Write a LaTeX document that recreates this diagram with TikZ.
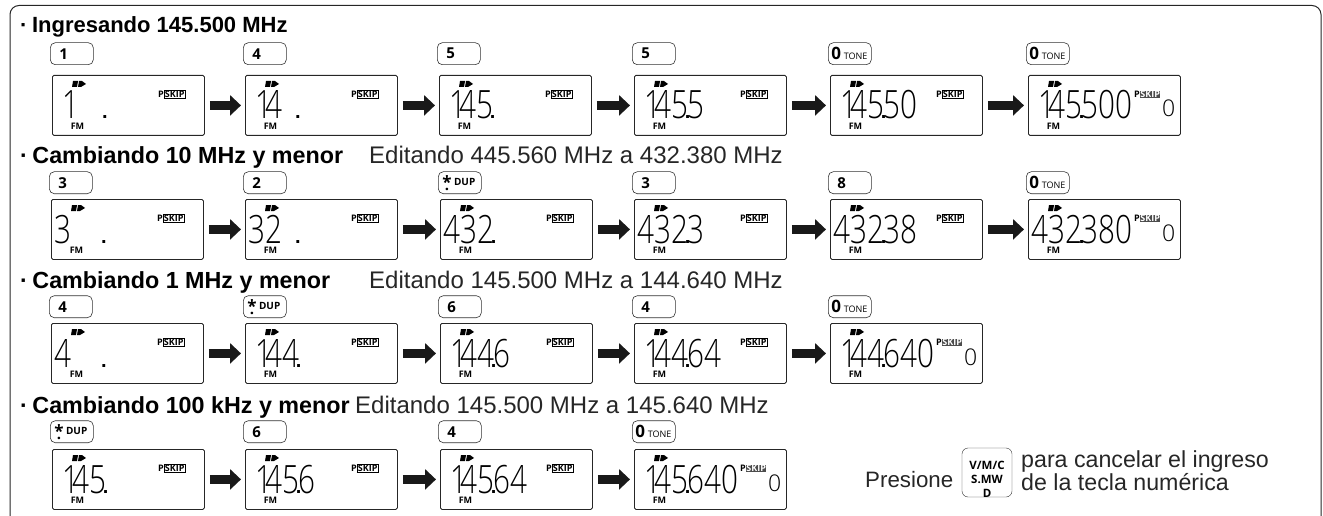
\documentclass[tikz,border=0pt]{standalone}
\usepackage{fontspec}
\setmainfont{Liberation Sans}
\newfontfamily\lcdfont[FakeStretch=0.76]{Open Sans Light}
\newfontfamily\lcdsmallfont{Open Sans Light}
\newfontfamily\keyfont{Open Sans}
\usetikzlibrary{arrows.meta,calc,positioning}

% digits of the display
\newcommand{\one}{\kern7pt 1\kern-7pt}
\newcommand{\lcddot}{\rlap{\kern-3pt\normalfont\bfseries\fontsize{20}{20}\selectfont .}}
\newcommand{\gapdot}[1]{\kern#1pt\lcddot}

% keys
\newcommand{\numkey}[1]{\hspace*{6pt}#1}
\newcommand{\tonekey}{\fontsize{17}{17}\selectfont 0\,\mdseries\fontsize{9}{9}\selectfont TONE}
\newcommand{\dupkey}{\hspace*{1pt}\rlap{\raisebox{-5pt}{\kern2.5pt.}}\raisebox{-3pt}{\fontsize{17}{17}\selectfont *}\,\fontsize{10}{10}\selectfont DUP}

% one display with its key above: name, x, y, key gap, key text, digits
\newcommand{\skipmark}{\fcolorbox{black}{white}{SKIP}}
\newcommand{\display}[6]{
  \node[lcdbox] (#1) at (#2,#3) {};
  \node[keybox,anchor=south west] (#1key) at ($(#1.north west)+(-2,-#4)$) {#5};
  \node[lcdtext] (#1num) at ($(#1.north west)+(3,44)$) {#6};
  \node[fmtext] (#1fm) at ($(#1.north west)+(25.5,51.5)$) {FM};
  \node[skiptext] (#1skip) at ($(#1.north west)+(106,19.5)$) {P\skipmark};
  \fill ($(#1.north west)+(21,6)$) -- +(5,0) -- +(4,6) -- +(-1,6) -- cycle
    ($(#1.north west)+(27,6)$) -- +(3,0) -- +(7,3) -- +(2,6) -- +(-1,6) -- cycle;
}
% same, with everything entered: the extra small digit at the right
\newcommand{\fulldisplay}[6]{
  \renewcommand{\skipmark}{\colorbox{black!70}{\color{white}SKIP}}
  \display{#1}{#2}{#3}{#4}{#5}{#6}
  \node[lcdsmall] (#1zero) at ($(#1.north west)+(134,42)$) {0};
  \renewcommand{\skipmark}{\fcolorbox{black}{white}{SKIP}}
}

\begin{document}
\begin{tikzpicture}[x=1pt,y=-1pt,
  lcdbox/.style={draw=black!85,rounded corners=1.5pt,minimum width=152pt,minimum height=60pt,anchor=north west,inner sep=0pt,line width=0.8pt},
  keybox/.style={draw=black!80,rounded corners=5pt,text width=37pt,minimum height=22pt,inner xsep=3pt,inner ysep=0pt,align=left,font=\keyfont\bfseries\fontsize{15}{15}\selectfont,line width=0.6pt},
  lcdtext/.style={anchor=base west,inner sep=0pt,font=\lcdfont\fontsize{39}{39}\selectfont},
  lcdsmall/.style={anchor=base west,inner sep=0pt,font=\lcdsmallfont\fontsize{23}{23}\selectfont},
  fmtext/.style={inner sep=0pt,font=\keyfont\bfseries\fontsize{9}{9}\selectfont},
  skiptext/.style={anchor=west,inner sep=0pt,font=\keyfont\bfseries\fontsize{9}{9}\selectfont},
  arrow/.style={-{Triangle[length=11pt,width=20pt]},line width=9pt,black!90,shorten >=4pt,shorten <=5pt},
  heading/.style={anchor=base west,inner sep=0pt,font=\bfseries\fontsize{23.3}{23.3}\selectfont},
  subheading/.style={anchor=base west,inner sep=0pt,text=black!85,font=\fontsize{24}{24}\selectfont}
]
\useasboundingbox (0,0) rectangle (1323,516);
\fboxsep=0.5pt
\fboxrule=0.5pt
\draw[line width=1pt,rounded corners=9pt,black!85] (10,516) -- (10,5.5) -- (1321,5.5) -- (1321,516);

% row 1
\node[heading,font=\bfseries\fontsize{22}{22}\selectfont] (h1) at (20,33) {·\kern4.5pt Ingresando 145.500 MHz};
\display{a1}{52}{75}{10}{\numkey{1}}{\one\gapdot{33}}
\display{a2}{245}{75}{10}{\numkey{4}}{\one4\gapdot{16}}
\display{a3}{439}{75}{10}{\numkey{5}}{\one45\lcddot}
\display{a4}{634}{75}{10}{\numkey{5}}{\one45\lcddot5}
\display{a5}{830}{75}{10}{\tonekey}{\one45\lcddot50}
\fulldisplay{a6}{1028}{75}{10}{\tonekey}{\one45\lcddot500}
\draw[arrow] (a1) -- (a2);
\draw[arrow] (a2) -- (a3);
\draw[arrow] (a3) -- (a4);
\draw[arrow] (a4) -- (a5);
\draw[arrow] (a5) -- (a6);

% row 2
\node[heading] (h2) at (20,164) {·\kern4.5pt Cambiando 10 MHz y menor};
\node[subheading] (s2) at (369,164) {Editando 445.560 MHz a 432.380 MHz};
\display{b1}{51}{199}{5}{\numkey{3}}{3\gapdot{33}}
\display{b2}{245}{199}{5}{\numkey{2}}{32\gapdot{16}}
\display{b3}{440}{199}{5}{\dupkey}{432\lcddot}
\display{b4}{634}{199}{5}{\numkey{3}}{432\lcddot3}
\display{b5}{830}{199}{5}{\numkey{8}}{432\lcddot38}
\fulldisplay{b6}{1028}{199}{5}{\tonekey}{432\lcddot380}
\draw[arrow] (b1) -- (b2);
\draw[arrow] (b2) -- (b3);
\draw[arrow] (b3) -- (b4);
\draw[arrow] (b4) -- (b5);
\draw[arrow] (b5) -- (b6);

% row 3
\node[heading] (h3) at (20,288) {·\kern4.5pt Cambiando 1 MHz y menor};
\node[subheading] (s3) at (369,288) {Editando 145.500 MHz a 144.640 MHz};
\display{c1}{51}{323}{5}{\numkey{4}}{4\gapdot{33}}
\display{c2}{245}{323}{5}{\dupkey}{\one44\lcddot}
\display{c3}{440}{323}{5}{\numkey{6}}{\one44\lcddot6}
\display{c4}{634}{323}{5}{\numkey{4}}{\one44\lcddot64}
\fulldisplay{c5}{830}{323}{5}{\tonekey}{\one44\lcddot640}
\draw[arrow] (c1) -- (c2);
\draw[arrow] (c2) -- (c3);
\draw[arrow] (c3) -- (c4);
\draw[arrow] (c4) -- (c5);

% row 4
\node[heading] (h4) at (20,413) {·\kern4.5pt Cambiando 100 kHz y menor};
\node[subheading] (s4) at (355,413) {Editando 145.500 MHz a 145.640 MHz};
\display{d1}{52}{449}{6}{\dupkey}{\one45\lcddot}
\display{d2}{245}{449}{6}{\numkey{6}}{\one45\lcddot6}
\display{d3}{440}{449}{6}{\numkey{4}}{\one45\lcddot64}
\fulldisplay{d4}{634}{449}{6}{\tonekey}{\one45\lcddot640}
\draw[arrow] (d1) -- (d2);
\draw[arrow] (d2) -- (d3);
\draw[arrow] (d3) -- (d4);

% note
\node[subheading,font=\fontsize{22.3}{22.3}\selectfont] (press) at (865,487) {Presione};
\node[draw=black!80,rounded corners=6pt,minimum width=50pt,minimum height=49pt,inner sep=0pt,align=center,font=\keyfont\bfseries\fontsize{11.5}{14}\selectfont] (clear) at (987,472.5) {\rule{0pt}{21pt}V/M/C\\S.MW\\D};
\node[subheading,align=left,font=\fontsize{23.2}{20}\selectfont] (cancel) at (1021,490.5) {para cancelar el ingreso\\de la tecla numérica};
\end{tikzpicture}
\end{document}
